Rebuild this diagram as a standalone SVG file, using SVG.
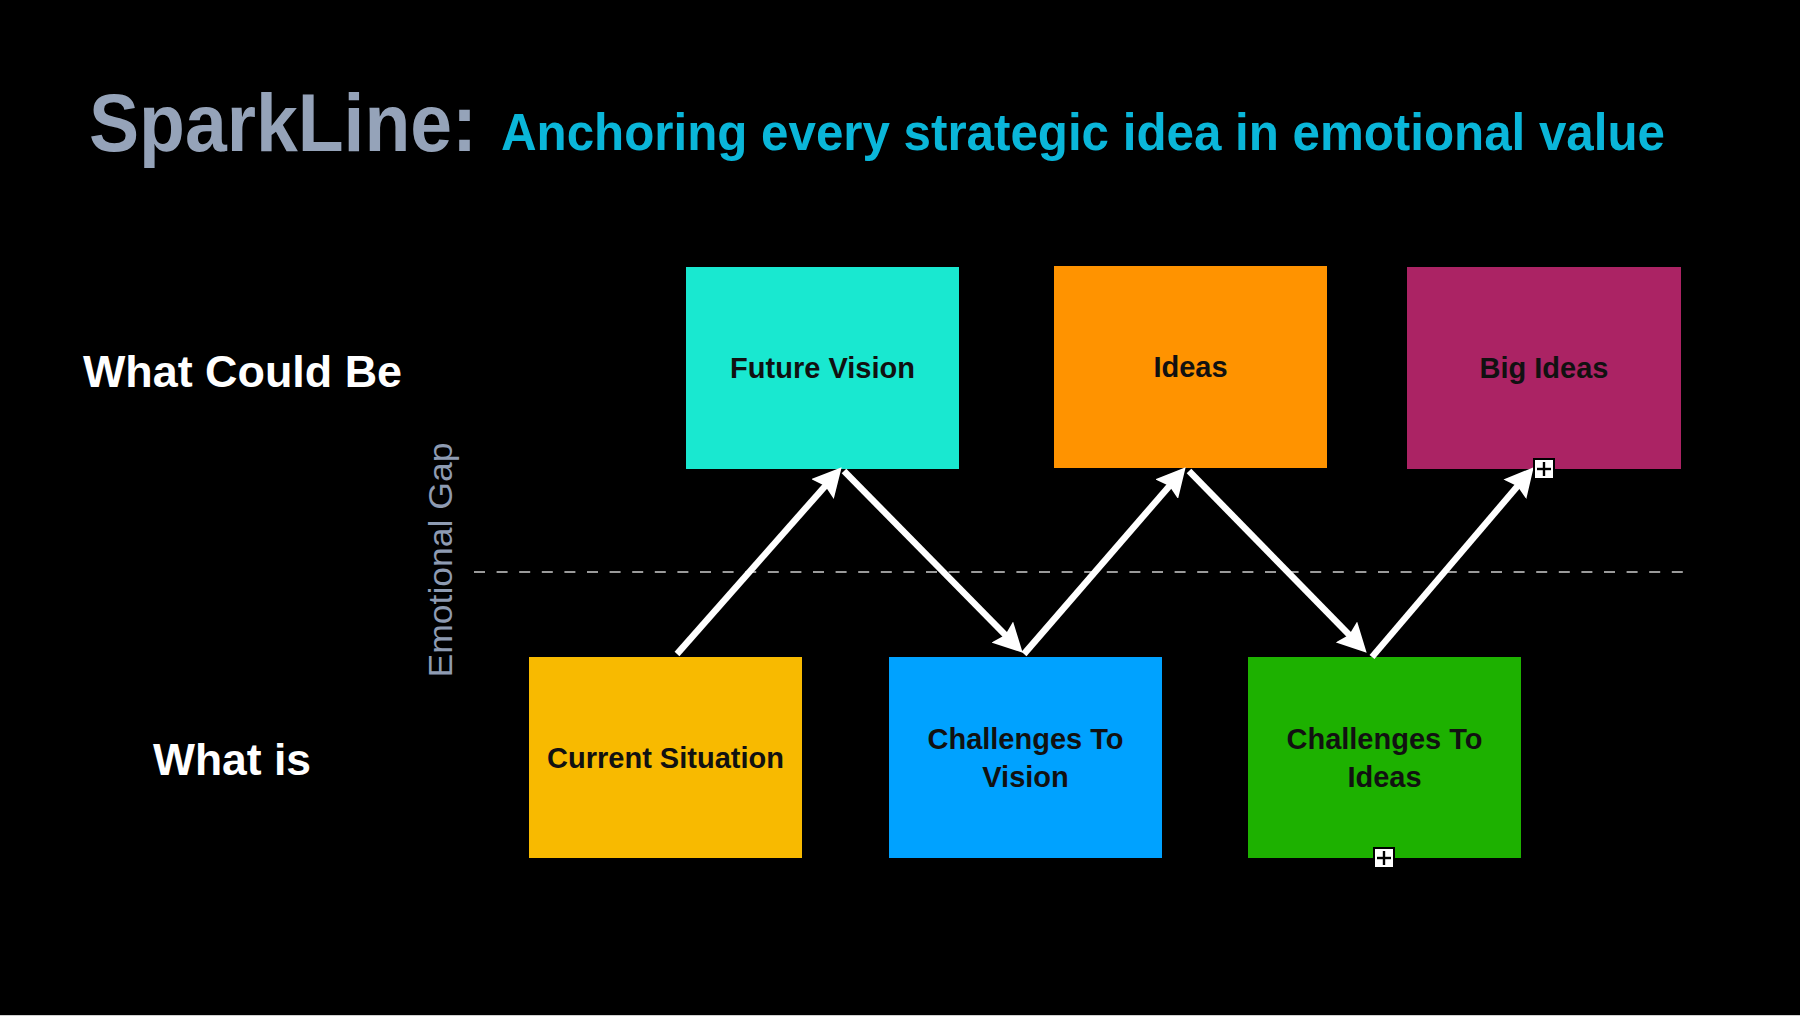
<svg xmlns="http://www.w3.org/2000/svg" width="1800" height="1016" viewBox="0 0 1800 1016">
  <defs>
    <style>
      .lbl { font-family: "Liberation Sans", Arial, Helvetica, sans-serif; font-weight: bold; font-size: 29px; fill: #111111; text-anchor: middle; }
      .side { font-family: "Liberation Sans", Arial, Helvetica, sans-serif; font-weight: bold; font-size: 44px; fill: #ffffff; }
      .arrow { stroke: #ffffff; stroke-width: 6.5; fill: none; marker-end: url(#head); }
      .plus-box { fill: #ffffff; stroke: #000000; stroke-width: 2; }
      .plus-line { stroke: #000000; stroke-width: 2.4; }
    </style>
    <marker id="head" markerUnits="userSpaceOnUse" markerWidth="30" markerHeight="30" viewBox="0 0 30 30" refX="13" refY="15" orient="auto">
      <path d="M0,0 L29,15 L0,30 L4,15 Z" fill="#ffffff"/>
    </marker>
  </defs>
  <rect x="0" y="0" width="1800" height="1016" fill="#000000"/>
  <rect x="0" y="1015" width="1800" height="1" fill="#cfcfcf"/>

  <g id="title">
    <text x="89" y="151" font-family="Liberation Sans, Arial, Helvetica, sans-serif" font-weight="bold" font-size="82" fill="#95a3b9" textLength="388" lengthAdjust="spacingAndGlyphs">SparkLine:</text>
    <text x="501" y="150" font-family="Liberation Sans, Arial, Helvetica, sans-serif" font-weight="bold" font-size="52" fill="#0ab6d9" textLength="1164" lengthAdjust="spacingAndGlyphs">Anchoring every strategic idea in emotional value</text>
  </g>

  <g id="row-labels">
    <text class="side" x="83" y="387" textLength="319" lengthAdjust="spacingAndGlyphs">What Could Be</text>
    <text class="side" x="153" y="775" textLength="158" lengthAdjust="spacingAndGlyphs">What is</text>
  </g>

  <g id="gap">
    <line x1="474" y1="572" x2="1684" y2="572" stroke="#9a9a9a" stroke-width="2" stroke-dasharray="11 11.6"/>
    <text transform="translate(452,560) rotate(-90)" text-anchor="middle" font-family="Liberation Sans, Arial, Helvetica, sans-serif" font-size="34" fill="#8e9bb2" textLength="235" lengthAdjust="spacingAndGlyphs">Emotional Gap</text>
  </g>

  <g id="node-future-vision">
    <rect x="686" y="267" width="273" height="202" fill="#19e8d0"/>
    <text class="lbl" x="822.5" y="378">Future Vision</text>
  </g>
  <g id="node-ideas">
    <rect x="1054" y="266" width="273" height="202" fill="#ff9300"/>
    <text class="lbl" x="1190.5" y="377">Ideas</text>
  </g>
  <g id="node-big-ideas">
    <rect x="1407" y="267" width="274" height="202" fill="#ab2364"/>
    <text class="lbl" x="1544" y="378">Big Ideas</text>
  </g>
  <g id="node-current-situation">
    <rect x="529" y="657" width="273" height="201" fill="#f8ba00"/>
    <text class="lbl" x="665.5" y="768">Current Situation</text>
  </g>
  <g id="node-challenges-vision">
    <rect x="889" y="657" width="273" height="201" fill="#00a2ff"/>
    <text class="lbl" x="1025.5" y="749">Challenges To</text>
    <text class="lbl" x="1025.5" y="787">Vision</text>
  </g>
  <g id="node-challenges-ideas">
    <rect x="1248" y="657" width="273" height="201" fill="#1db100"/>
    <text class="lbl" x="1384.5" y="749">Challenges To</text>
    <text class="lbl" x="1384.5" y="787">Ideas</text>
  </g>

  <g id="connectors">
    <line class="arrow" x1="677" y1="654" x2="831.1" y2="479.3"/>
    <line class="arrow" x1="844" y1="471" x2="1011.5" y2="641.3"/>
    <line class="arrow" x1="1024" y1="654" x2="1175.2" y2="479.3"/>
    <line class="arrow" x1="1189" y1="471" x2="1355.5" y2="641.3"/>
    <line class="arrow" x1="1372" y1="657" x2="1523.3" y2="479.4"/>
  </g>

  <g id="expand-icons">
    <rect class="plus-box" x="1534" y="459" width="20" height="20"/>
    <line class="plus-line" x1="1537" y1="469" x2="1551" y2="469"/>
    <line class="plus-line" x1="1544" y1="462" x2="1544" y2="476"/>
    <rect class="plus-box" x="1374" y="848" width="20" height="20"/>
    <line class="plus-line" x1="1377" y1="858" x2="1391" y2="858"/>
    <line class="plus-line" x1="1384" y1="851" x2="1384" y2="865"/>
  </g>
</svg>
